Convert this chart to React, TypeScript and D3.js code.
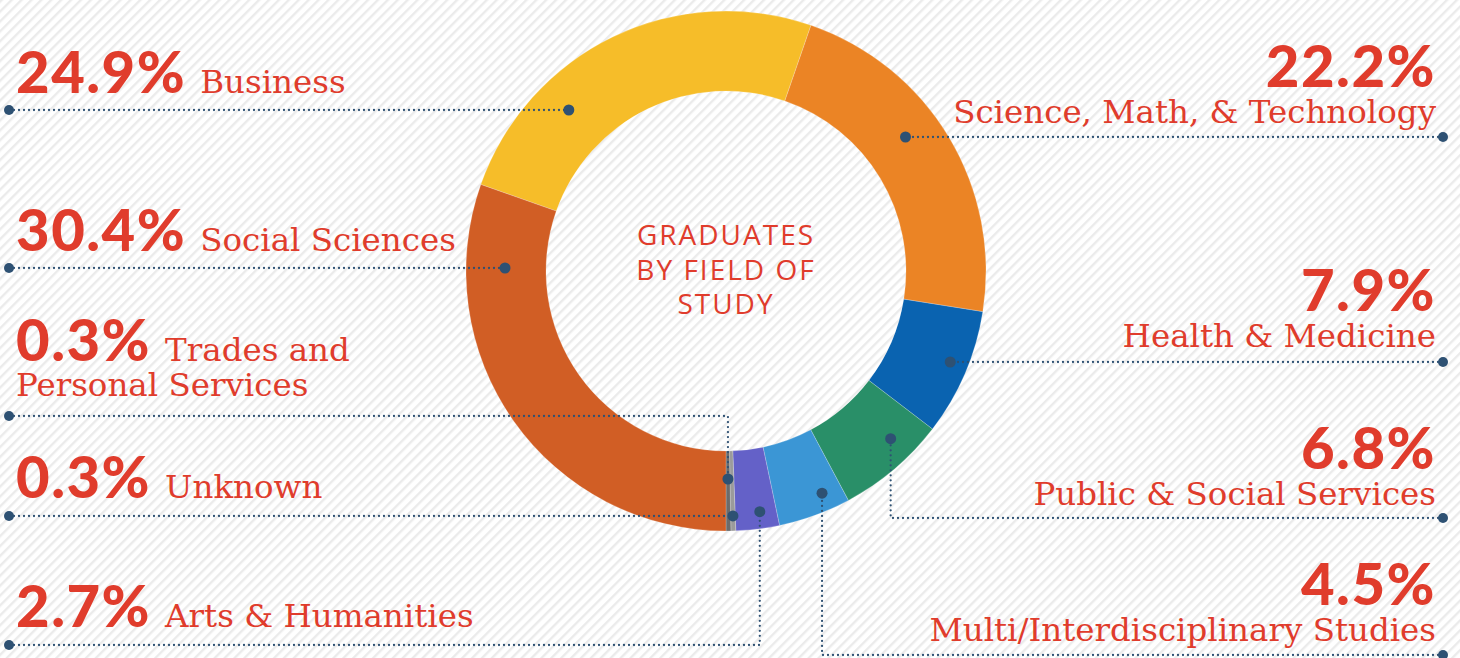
import React from 'react'
import * as d3 from 'd3'

// fields in clockwise order, starting with Business
const fields = [
  'Business',
  'Science, Math, & Technology',
  'Health & Medicine',
  'Public & Social Services',
  'Multi/Interdisciplinary Studies',
  'Arts & Humanities',
  'Unknown',
  'Trades and Personal Services',
  'Social Sciences',
]
const shares = [24.9, 22.2, 7.9, 6.8, 4.5, 2.7, 0.3, 0.3, 30.4]
const colors = ['#F6BD29', '#EB8425', '#0A63B0', '#298F68', '#3B96D5', '#6461C8', '#9B9B9B', '#6B6B6B', '#D15E25']
const centerTitle = ['GRADUATES', 'BY FIELD OF', 'STUDY']

// label layout: side, baseline of percentage, label lines, leader line y
// leader mode 'h' ends where the line meets the ring, 'v' turns up/down into the slice
const labels = [
  { i: 0, side: 'left', y: 93, lines: ['Business'], lineY: 110, mode: 'h', r: 225 },
  { i: 8, side: 'left', y: 251, lines: ['Social Sciences'], lineY: 268, mode: 'h', r: 221 },
  { i: 7, side: 'left', y: 361, lines: ['Trades and', 'Personal Services'], lineY: 416, mode: 'v', r: 208, f: 0.5 },
  { i: 6, side: 'left', y: 498, lines: ['Unknown'], lineY: 516, mode: 'v', r: 245, f: 0.5 },
  { i: 5, side: 'left', y: 627, lines: ['Arts & Humanities'], lineY: 645, mode: 'v', r: 243, f: 0.4 },
  { i: 1, side: 'right', y: 87, lines: ['Science, Math, & Technology'], lineY: 137, mode: 'h', r: 224 },
  { i: 2, side: 'right', y: 311, lines: ['Health & Medicine'], lineY: 362, mode: 'h', r: 242 },
  { i: 3, side: 'right', y: 469, lines: ['Public & Social Services'], lineY: 518, mode: 'v', r: 235, f: 0.33 },
  { i: 4, side: 'right', y: 605, lines: ['Multi/Interdisciplinary Studies'], lineY: 655, mode: 'v', r: 242, f: 0.29 },
]

const width = 1460
const height = 658
const cx = 726
const cy = 271
const outerR = 260
const innerR = 180
const red = '#E03C2C'
const navy = '#2E5173'
const pctFont = "Lato, 'DejaVu Sans', sans-serif"
const labelFont = "'DejaVu Serif', serif"
const pctSize = 58
const labelSize = 32.5

function App() {
  const total = d3.sum(shares)
  const beforeSocial = d3.sum(shares.slice(0, shares.length - 1))
  const start = Math.PI - (2 * Math.PI * beforeSocial) / total

  const pie = d3
    .pie<number>()
    .sort(null)
    .value(d => d)
    .startAngle(start)
    .endAngle(start + 2 * Math.PI)
  const arcs = pie(shares)
  const arc = d3.arc<d3.PieArcDatum<number>>().innerRadius(innerR).outerRadius(outerR)

  const leftX = 9
  const rightX = 1443

  return (
    <svg width={width} height={height} style={{ position: 'absolute', left: 0, top: 0 }}>
      <defs>
        <pattern id="stripes" width="7" height="7" patternUnits="userSpaceOnUse" patternTransform="rotate(45)">
          <rect width="7" height="7" fill="#ffffff" />
          <rect width="2.4" height="7" fill="#ebebeb" />
        </pattern>
      </defs>
      <rect width={width} height={height} fill="url(#stripes)" />

      <g transform={`translate(${cx},${cy})`}>
        {arcs.map((a, k) => (
          <path key={k} d={arc(a) || ''} fill={colors[k]} stroke="#ffffff" strokeOpacity={0.35} strokeWidth={0.6} />
        ))}
        {centerTitle.map((t, k) => (
          <text
            key={t}
            x={0}
            y={-26 + k * 34.5}
            textAnchor="middle"
            fill={red}
            fontFamily="'Open Sans', sans-serif"
            fontSize={28}
            letterSpacing={2}
          >
            {t}
          </text>
        ))}
      </g>

      {labels.map(l => {
        const a = arcs[l.i]
        let dx: number, dy: number
        let path: string
        const endX = l.side === 'left' ? leftX : rightX
        if (l.mode === 'h') {
          const off = l.lineY - cy
          const h = Math.sqrt(l.r * l.r - off * off)
          dx = l.side === 'left' ? cx - h : cx + h
          dy = l.lineY
          path = `M${endX},${l.lineY}H${dx}`
        } else {
          const ang = a.startAngle + (a.endAngle - a.startAngle) * (l.f ?? 0.5)
          dx = cx + l.r * Math.sin(ang)
          dy = cy - l.r * Math.cos(ang)
          path = `M${endX},${l.lineY}H${dx}V${dy}`
        }
        const pct = `${shares[l.i].toFixed(1)}%`
        return (
          <g key={l.i}>
            <path d={path} fill="none" stroke={navy} strokeWidth={2.3} strokeDasharray="0 5" strokeLinecap="round" />
            <circle cx={endX} cy={l.lineY} r={5} fill={navy} />
            <circle cx={dx} cy={dy} r={5.5} fill={navy} />
            {l.side === 'left' ? (
              <>
                <text x={16} y={l.y} fill={red}>
                  <tspan fontFamily={pctFont} fontWeight={900} fontSize={pctSize} letterSpacing={1.5}>
                    {pct}
                  </tspan>
                  <tspan dx={14} fontFamily={labelFont} fontSize={labelSize}>
                    {l.lines[0]}
                  </tspan>
                </text>
                {l.lines.slice(1).map((s, k) => (
                  <text key={s} x={16} y={l.y + 35 * (k + 1)} fill={red} fontFamily={labelFont} fontSize={labelSize}>
                    {s}
                  </text>
                ))}
              </>
            ) : (
              <>
                <text x={1436} y={l.y} textAnchor="end" fill={red} fontFamily={pctFont} fontWeight={900} fontSize={pctSize} letterSpacing={1.5}>
                  {pct}
                </text>
                {l.lines.map((s, k) => (
                  <text key={s} x={1436} y={l.y + 36 + 35 * k} textAnchor="end" fill={red} fontFamily={labelFont} fontSize={labelSize}>
                    {s}
                  </text>
                ))}
              </>
            )}
          </g>
        )
      })}
    </svg>
  )
}

export default App
